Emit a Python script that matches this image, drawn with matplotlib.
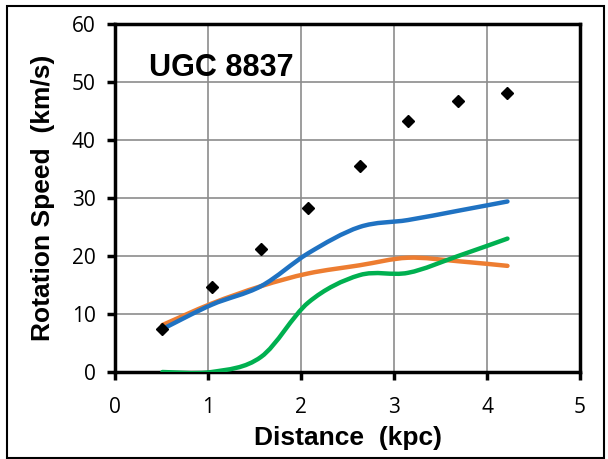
import numpy as np
import matplotlib.pyplot as plt
from matplotlib.path import Path
from matplotlib.patches import PathPatch, Rectangle

plt.rcParams['font.family'] = ['Open Sans', 'DejaVu Sans']

distance = [0.51, 1.04, 1.57, 2.08, 2.63, 3.15, 3.69, 4.22]
observed = [7.4, 14.7, 21.2, 28.3, 35.5, 43.3, 46.7, 48.1]
blue = [7.4, 11.6, 14.8, 20.5, 25.0, 26.2, 27.8, 29.4]
orange = [8.1, 11.8, 14.8, 17.0, 18.4, 19.7, 19.1, 18.3]
green = [0.0, 0.0, 2.6, 12.0, 16.7, 17.1, 20.0, 23.0]


def smooth_path(x, y):
    # excel-like smoothed line: catmull-rom segments as cubic beziers
    x = np.asarray(x, float)
    y = np.asarray(y, float)
    verts = [(x[0], y[0])]
    codes = [Path.MOVETO]
    n = len(x)
    for i in range(n - 1):
        i0 = max(i - 1, 0)
        i3 = min(i + 2, n - 1)
        c1 = (x[i] + (x[i + 1] - x[i0]) / 6, y[i] + (y[i + 1] - y[i0]) / 6)
        c2 = (x[i + 1] - (x[i3] - x[i]) / 6, y[i + 1] - (y[i3] - y[i]) / 6)
        verts += [c1, c2, (x[i + 1], y[i + 1])]
        codes += [Path.CURVE4] * 3
    return Path(verts, codes)


fig = plt.figure(figsize=(6.08, 4.59), dpi=100)
ax = fig.add_axes([115 / 608, 1 - 372 / 459, 465 / 608, 348 / 459])

for ys, col in [(orange, '#ED7D31'), (blue, '#1F72C2'), (green, '#00B050')]:
    ax.add_patch(PathPatch(smooth_path(distance, ys), facecolor='none',
                           edgecolor=col, lw=3.2, capstyle='round', zorder=3))

ax.plot(distance, observed, linestyle='none', marker='D', color='black',
        markersize=6.5, zorder=4)

ax.set_xlim(0, 5)
ax.set_ylim(0, 60)
ax.set_xticks(range(0, 6))
ax.set_yticks(range(0, 61, 10))
ax.grid(True, color='#8c8c8c', lw=1.2)
ax.set_axisbelow(True)
for s in ax.spines.values():
    s.set_linewidth(2.5)
ax.tick_params(direction='out', length=6, width=2.5, labelsize=15)
ax.tick_params(axis='x', pad=12)
ax.tick_params(axis='y', pad=8)

bold = dict(fontweight='bold', family='Liberation Sans')
ax.set_xlabel('Distance  (kpc)', fontsize=19, labelpad=6, **bold)
ax.set_ylabel('Rotation Speed  (km/s)', fontsize=19, labelpad=12, **bold)
ax.text(0.37, 52.5, 'UGC 8837', fontsize=22, va='center', **bold)

fig.patches.append(Rectangle((7 / 608, 1 / 459), 597 / 608, 452 / 459,
                             transform=fig.transFigure, fill=False,
                             edgecolor='black', lw=1.5))

fig.savefig('out.png', dpi=100)
